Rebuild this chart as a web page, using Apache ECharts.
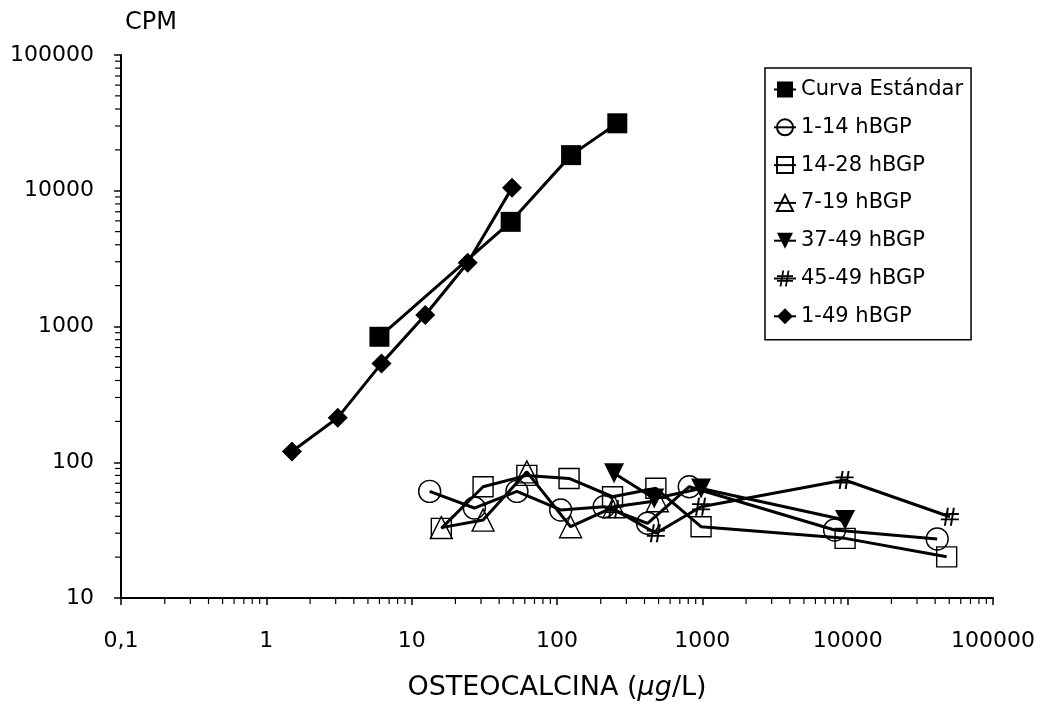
<!DOCTYPE html>
<html lang="en">
<head>
    <meta charset="UTF-8">
    <title>Osteocalcina CPM</title>
    <script src="https://cdn.jsdelivr.net/npm/echarts@6/dist/echarts.min.js"></script>
    <style>
        html, body { margin: 0; padding: 0; background: #fff; }
        #main { width: 1040px; height: 709px; }
    </style>
</head>
<body>
    <div id="main"></div>
    <script type="text/javascript">
        // series data: [concentration ug/L, CPM]
        var curvaEstandar = [[6, 840], [48, 5900], [125, 18300], [260, 31400]]
        var h1_14 = [[13.3, 61], [27, 46], [53, 61], [106, 44.5], [211, 47], [420, 35.5], [813, 66], [8130, 31.7], [41300, 27.2]]
        var h14_28 = [[16, 32.6], [31, 66], [62, 80], [121, 76], [241, 55.7], [479, 64.3], [980, 33.5], [9600, 27.5], [48000, 20.1]]
        var h7_19 = [[16, 33], [31, 37.5], [62, 85], [124, 33.5], [247, 47], [490, 52]]
        var h37_49 = [[247, 83], [467, 54], [980, 64], [9600, 37.6]]
        var h45_49 = [[247, 45], [479, 30], [980, 47], [9530, 74], [50500, 39.7]]
        var h1_49 = [[1.5, 120], [3.1, 213], [6.2, 535], [12.4, 1216], [24.3, 2950], [49, 10500]]

        var seriesNames = ['Curva Estándar', '1-14 hBGP', '14-28 hBGP', '7-19 hBGP', '37-49 hBGP', '45-49 hBGP', '1-49 hBGP']

        // log axis decades and minor multipliers
        var xDecades = [0.1, 1, 10, 100, 1000, 10000]
        var yDecades = [10, 100, 1000, 10000]
        var minorSteps = [2, 3, 4, 5, 6, 7, 8, 9]

        var FONT = 'DejaVu Sans'
        var hashPath = 'path://M7,0 L9,0 L6,20 L4,20 Z M13,0 L15,0 L12,20 L10,20 Z M1,6 L19,6 L19,8 L1,8 Z M1,12 L19,12 L19,14 L1,14 Z'

        var xMinor = []
        xDecades.forEach(d => minorSteps.forEach(m => xMinor.push([d * m, 10])))
        var yMinor = []
        yDecades.forEach(d => minorSteps.forEach(m => yMinor.push([0.1, d * m])))

        function lineSeries(name, data, symbol, size, filled, rotate) {
            return {
                name: name,
                type: 'line',
                data: data,
                symbol: symbol,
                symbolSize: size,
                symbolRotate: rotate || 0,
                showAllSymbol: true,
                lineStyle: { color: '#000', width: 3 },
                itemStyle: {
                    color: filled ? '#000' : 'rgba(0,0,0,0)',
                    borderColor: '#000',
                    borderWidth: filled ? 0 : 1.4
                },
                z: 3
            }
        }

        var chart = echarts.init(document.getElementById('main'))
        var option = {
            backgroundColor: '#fff',
            animation: false,
            textStyle: { fontFamily: FONT, color: '#000' },
            grid: { left: 121, right: 47, top: 55, bottom: 111, outerBoundsMode: 'none' },
            legend: {
                data: seriesNames,
                orient: 'vertical',
                left: 765,
                top: 68,
                padding: [11, 8, 13, 8],
                itemGap: 16.8,
                itemWidth: 22,
                itemHeight: 20,
                borderColor: '#000',
                borderWidth: 1.5,
                textStyle: { fontFamily: FONT, fontSize: 21, color: '#000' }
            },
            xAxis: {
                type: 'log',
                logBase: 10,
                min: 0.1,
                max: 100000,
                name: 'OSTEOCALCINA ({it|µg}/L)',
                nameLocation: 'middle',
                nameGap: 76,
                nameTextStyle: {
                    fontFamily: FONT, fontSize: 27, color: '#000',
                    rich: { it: { fontStyle: 'italic', fontFamily: FONT, fontSize: 27 } }
                },
                axisLine: { lineStyle: { color: '#000', width: 2 } },
                axisTick: { show: true, inside: false, length: 7, lineStyle: { color: '#000', width: 1.5 } },
                axisLabel: {
                    margin: 32, fontSize: 22, color: '#000', fontFamily: FONT,
                    formatter: v => (v < 1 ? '0,1' : String(Math.round(v)))
                },
                splitLine: { show: false }
            },
            yAxis: {
                type: 'log',
                logBase: 10,
                min: 10,
                max: 100000,
                name: 'CPM',
                nameLocation: 'end',
                nameGap: 20,
                nameTextStyle: { fontFamily: FONT, fontSize: 24, color: '#000', align: 'left', padding: [0, 0, 0, 4] },
                axisLine: { lineStyle: { color: '#000', width: 2 } },
                axisTick: { show: true, inside: false, length: 7, lineStyle: { color: '#000', width: 1.5 } },
                axisLabel: {
                    margin: 27, fontSize: 22, color: '#000', fontFamily: FONT,
                    formatter: v => String(Math.round(v))
                },
                splitLine: { show: false }
            },
            series: [
                lineSeries(seriesNames[0], curvaEstandar, 'rect', 20, true),
                lineSeries(seriesNames[1], h1_14, 'circle', 22, false),
                lineSeries(seriesNames[2], h14_28, 'rect', 20, false),
                lineSeries(seriesNames[3], h7_19, 'triangle', 22, false),
                lineSeries(seriesNames[4], h37_49, 'triangle', 20, true, 180),
                lineSeries(seriesNames[5], h45_49, hashPath, 18, true),
                lineSeries(seriesNames[6], h1_49, 'diamond', 20, true),
                // minor log ticks on x axis
                {
                    type: 'custom',
                    name: 'xminor',
                    silent: true,
                    data: xMinor,
                    renderItem: (params, api) => {
                        let p = api.coord([api.value(0), api.value(1)])
                        return { type: 'line', shape: { x1: p[0], y1: p[1], x2: p[0], y2: p[1] + 6 }, style: { stroke: '#000', lineWidth: 1.2 } }
                    }
                },
                // minor log ticks on y axis
                {
                    type: 'custom',
                    name: 'yminor',
                    silent: true,
                    data: yMinor,
                    renderItem: (params, api) => {
                        let p = api.coord([api.value(0), api.value(1)])
                        return { type: 'line', shape: { x1: p[0], y1: p[1], x2: p[0] - 6, y2: p[1] }, style: { stroke: '#000', lineWidth: 1.2 } }
                    }
                }
            ]
        }
        chart.setOption(option)
    </script>
</body>
</html>
